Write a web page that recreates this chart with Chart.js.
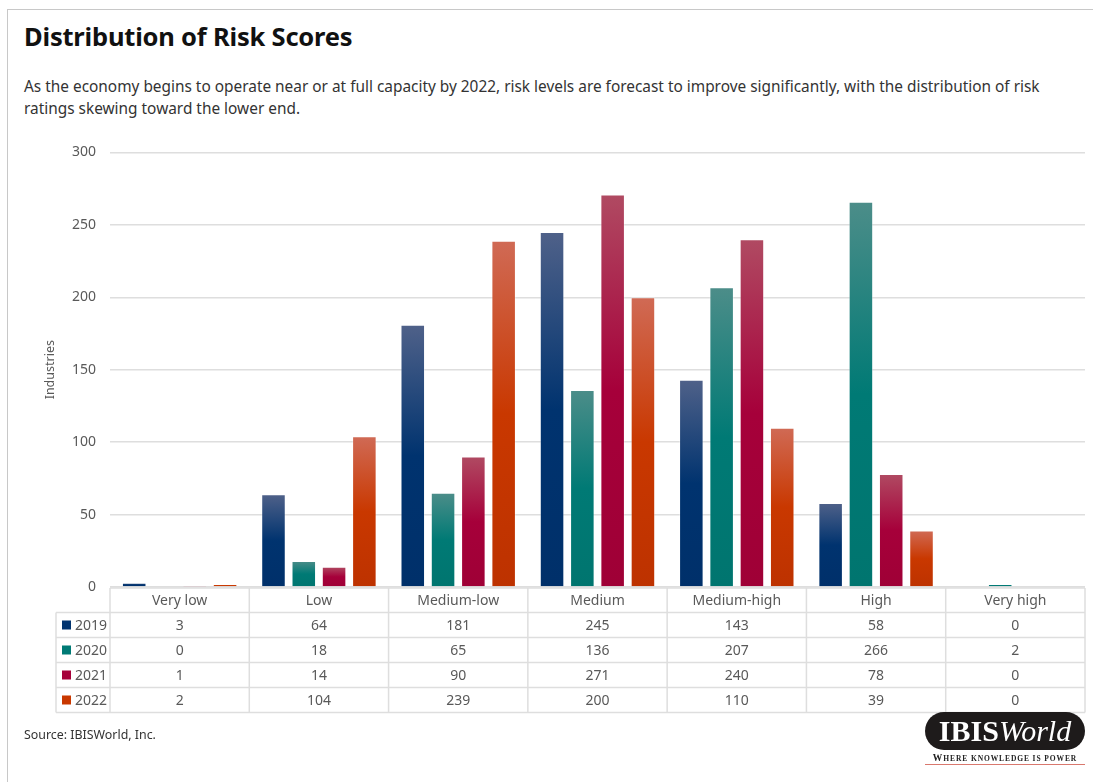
<!DOCTYPE html>
<html>
<head>
<meta charset="utf-8">
<script src="https://cdn.jsdelivr.net/npm/chart.js@4.4.1/dist/chart.umd.min.js"></script>
<style>
  body { margin: 0; background: #fff; font-family: "Noto Sans", "Open Sans", sans-serif; }
  #page { position: relative; width: 1093px; height: 782px; overflow: hidden; }
  #card { position: absolute; left: 7px; top: 9px; width: 1100px; height: 800px; border-left: 1.5px solid #c8c8c8; border-top: 1.5px solid #c8c8c8; }
  #title { position: absolute; left: 24px; top: 19px; font-size: 25.5px; font-weight: bold; color: #111; letter-spacing: -0.2px; }
  #sub { position: absolute; left: 24px; top: 76px; width: 1050px; font-size: 15.4px; line-height: 22px; color: #333; }
  #wrap { position: absolute; left: 0; top: 130px; width: 1093px; height: 600px; }
  #source { position: absolute; left: 24px; top: 726px; font-size: 12.4px; color: #333; }
  #logo { position: absolute; left: 925px; top: 712px; width: 160px; height: 38px; background: #1e1b1b; border-radius: 19px; color: #fff; text-align: center; font-family: "Liberation Serif", "DejaVu Serif", serif; font-size: 30px; line-height: 38px; }
  #logo i { font-weight: normal; }
  #tag { position: absolute; left: 925px; top: 753px; width: 160px; text-align: center; font-family: "Liberation Serif", serif; font-size: 9.5px; font-weight: bold; color: #222; letter-spacing: 0.9px; border-bottom: 1.5px solid #d9786e; padding-bottom: 1px; white-space: nowrap; }
</style>
</head>
<body>
<div id="page">
  <div id="card"></div>
  <div id="title">Distribution of Risk Scores</div>
  <div id="sub">As the economy begins to operate near or at full capacity by 2022, risk levels are forecast to improve significantly, with the distribution of risk ratings skewing toward the lower end.</div>
  <div id="wrap"><canvas id="riskChart"></canvas></div>
  <div id="source">Source: IBISWorld, Inc.</div>
  <div id="logo"><b>IBIS</b><i>World</i></div>
  <div id="tag">W<span style="font-size:7.5px">HERE KNOWLEDGE IS POWER</span></div>
</div>
<script>
var categories = ['Very low', 'Low', 'Medium-low', 'Medium', 'Medium-high', 'High', 'Very high'];
var years = ['2019', '2020', '2021', '2022'];
var values2019 = [3, 64, 181, 245, 143, 58, 0];
var values2020 = [0, 18, 65, 136, 207, 266, 2];
var values2021 = [1, 14, 90, 271, 240, 78, 0];
var values2022 = [2, 104, 239, 200, 110, 39, 0];
var yTicks = [0, 50, 100, 150, 200, 250, 300];

var series = [values2019, values2020, values2021, values2022];
// light top, solid colour, darker bottom
var palette = [
    ['#4f6189', '#00336f', '#00306a'],
    ['#4c8d89', '#007a75', '#00756f'],
    ['#b04a62', '#a6003a', '#9f0036'],
    ['#d06a55', '#c93800', '#bd3200']
];

function barFill(i) {
    return function(ctx) {
        var chart = ctx.chart;
        if (!chart.chartArea) return palette[i][1];
        var y = chart.scales.y;
        var top = y.getPixelForValue(ctx.raw);
        var base = y.getPixelForValue(0);
        if (base - top < 2) return palette[i][1];
        var g = chart.ctx.createLinearGradient(0, top, 0, base);
        g.addColorStop(0, palette[i][0]);
        g.addColorStop(0.5, palette[i][1]);
        g.addColorStop(1, palette[i][2]);
        return g;
    };
}

var datasets = [];
for (var i = 0; i < years.length; i++) {
    datasets.push({
        label: years[i],
        data: series[i],
        backgroundColor: barFill(i),
        borderColor: 'rgba(255,255,255,0.35)',
        borderWidth: 1,
        categoryPercentage: 0.87,
        barPercentage: 0.81
    });
}

// data table under the plot, aligned to the x scale
var tablePlugin = {
    id: 'dataTable',
    afterDraw: function(chart) {
        var c = chart.ctx;
        var area = chart.chartArea;
        var x = chart.scales.x;
        var step = (area.right - area.left) / categories.length;
        var headTop = area.bottom + 1;
        var headH = 24.5;
        var rowH = 25;
        var legendLeft = 56;
        var bottom = headTop + headH + rowH * years.length;

        c.save();
        c.strokeStyle = '#dedede';
        c.lineWidth = 1.5;
        c.beginPath();
        c.moveTo(area.left, headTop); c.lineTo(area.right, headTop);
        for (var r = 0; r <= years.length; r++) {
            var yy = headTop + headH + r * rowH;
            c.moveTo(legendLeft, yy); c.lineTo(area.right, yy);
        }
        for (var k = 0; k <= categories.length; k++) {
            var xx = area.left + k * step;
            c.moveTo(xx, headTop); c.lineTo(xx, bottom);
        }
        c.moveTo(legendLeft, headTop + headH); c.lineTo(legendLeft, bottom);
        c.stroke();

        c.font = '14px "Noto Sans", sans-serif';
        c.fillStyle = '#595959';
        c.textAlign = 'center';
        c.textBaseline = 'middle';
        for (var j = 0; j < categories.length; j++) {
            var cx = x.getPixelForValue(j);
            c.fillText(categories[j], cx, headTop + headH / 2 + 1);
            for (var s = 0; s < years.length; s++) {
                c.fillText(String(series[s][j]), cx, headTop + headH + s * rowH + rowH / 2 + 1);
            }
        }
        c.textAlign = 'left';
        for (var s2 = 0; s2 < years.length; s2++) {
            var cy = headTop + headH + s2 * rowH + rowH / 2;
            c.fillStyle = palette[s2][1];
            c.fillRect(legendLeft + 6, cy - 4.5, 9, 9);
            c.fillStyle = '#595959';
            c.fillText(years[s2], legendLeft + 19, cy + 1);
        }
        c.restore();
    }
};

var ctx = document.getElementById('riskChart').getContext('2d');
var chart = new Chart(ctx, {
    type: 'bar',
    data: { labels: categories, datasets: datasets },
    options: {
        responsive: true,
        maintainAspectRatio: false,
        animation: false,
        layout: { padding: { top: 21, right: 8, bottom: 143, left: 43 } },
        plugins: {
            legend: { display: false },
            tooltip: { enabled: false }
        },
        scales: {
            x: { display: false },
            y: {
                min: yTicks[0],
                max: yTicks[yTicks.length - 1],
                afterBuildTicks: function(scale) {
                    scale.ticks = yTicks.map(function(v) { return { value: v }; });
                },
                afterFit: function(scale) { scale.width = 67; },
                grid: { color: '#dedede', lineWidth: 1.5, drawTicks: false },
                border: { display: false },
                ticks: {
                    padding: 14,
                    color: '#595959',
                    font: { family: '"Noto Sans", sans-serif', size: 14 }
                },
                title: {
                    display: true,
                    text: 'Industries',
                    color: '#595959',
                    padding: 0,
                    font: { family: '"Noto Sans", sans-serif', size: 12.5 }
                }
            }
        }
    },
    plugins: [tablePlugin]
});
</script>
</body>
</html>
